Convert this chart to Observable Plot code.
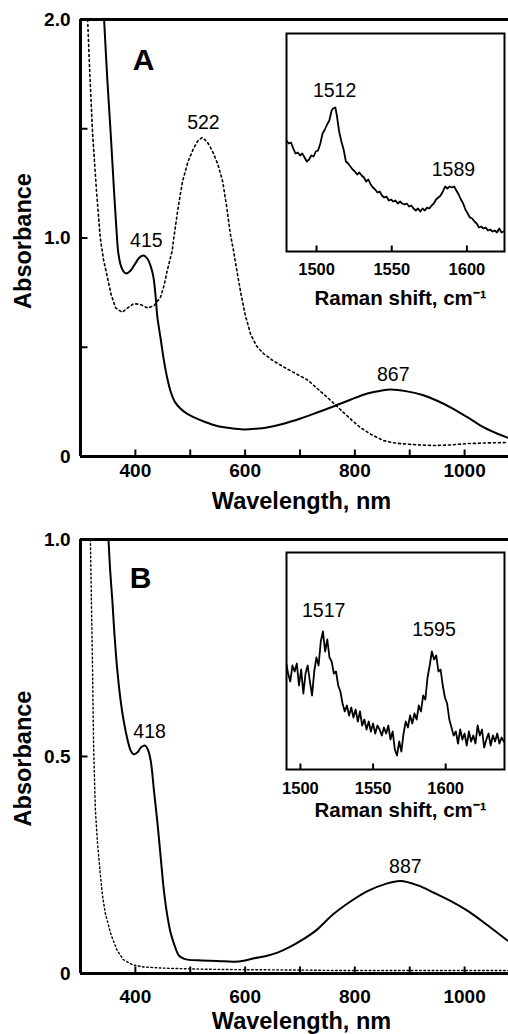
<!DOCTYPE html>
<html><head><meta charset="utf-8">
<script src="https://cdn.jsdelivr.net/npm/d3@7"></script>
<script src="https://cdn.jsdelivr.net/npm/@observablehq/plot@0.6"></script>
<style>
body{margin:0;background:#fff;}
#wrap{position:relative;width:508px;height:1034px;overflow:hidden;background:#fff;}
#wrap svg{position:absolute;}
</style></head><body><div id="wrap"></div>
<script>
const FONT = "Liberation Sans, Arial, Helvetica, sans-serif";

// ---- Panel A : absorbance spectra [wavelength nm, absorbance]
const solidA = [[343,2.0],[349,1.72],[355,1.48],[361,1.22],[366,1.02],[369,0.93],[374,0.87],[379,0.845],[384,0.838],[391,0.85],[399,0.88],[407,0.91],[415,0.92],[422,0.905],[428,0.87],[433,0.82],[437,0.73],[440,0.64],[446,0.54],[452,0.44],[458,0.36],[464,0.30],[472,0.25],[482,0.22],[494,0.196],[506,0.18],[527,0.158],[549,0.14],[573,0.13],[597,0.124],[620,0.127],[640,0.133],[670,0.15],[701,0.174],[730,0.2],[761,0.229],[792,0.26],[823,0.288],[845,0.30],[865,0.307],[895,0.298],[925,0.28],[950,0.255],[975,0.224],[1005,0.18],[1035,0.133],[1060,0.104],[1080,0.085]];
const dottedA = [[313,2.0],[317,1.75],[322,1.48],[329,1.22],[336,1.0],[342,0.9],[349,0.82],[356,0.74],[364,0.68],[376,0.66],[386,0.68],[397,0.70],[410,0.695],[422,0.68],[434,0.69],[446,0.73],[452,0.78],[458,0.85],[467,0.94],[470,1.0],[478,1.14],[486,1.26],[496,1.35],[506,1.41],[514,1.445],[522,1.46],[531,1.44],[540,1.40],[550,1.34],[559,1.26],[566,1.15],[573,1.02],[579,0.94],[585,0.85],[592,0.75],[600,0.65],[610,0.56],[621,0.505],[634,0.47],[650,0.44],[670,0.41],[692,0.38],[714,0.35],[732,0.31],[750,0.27],[765,0.235],[780,0.20],[795,0.165],[810,0.133],[830,0.10],[852,0.073],[868,0.064],[883,0.059],[910,0.054],[944,0.05],[975,0.053],[1005,0.059],[1040,0.062],[1078,0.064]];
const peaksA = [{x:420,y:0.92,label:"415"},{x:524,y:1.46,label:"522"},{x:870,y:0.307,label:"867"}];

// ---- Panel B
const solidB = [[351,1.0],[354,0.93],[358,0.86],[362,0.78],[367,0.70],[373,0.63],[379,0.58],[386,0.537],[391,0.515],[397,0.505],[404,0.51],[411,0.522],[418,0.525],[423,0.515],[428,0.49],[434,0.42],[440,0.35],[446,0.27],[452,0.191],[458,0.135],[464,0.095],[470,0.07],[479,0.042],[487,0.035],[495,0.032],[520,0.03],[550,0.029],[579,0.027],[600,0.03],[616,0.035],[640,0.041],[659,0.048],[680,0.06],[701,0.075],[730,0.1],[761,0.137],[792,0.166],[823,0.19],[855,0.206],[883,0.213],[915,0.203],[944,0.186],[975,0.167],[1005,0.145],[1040,0.113],[1078,0.076]];
const dottedB = [[318,1.0],[320,0.85],[322,0.70],[323,0.6],[324,0.52],[327,0.38],[331,0.3],[336,0.23],[340,0.18],[345,0.14],[355,0.092],[366,0.055],[378,0.032],[395,0.02],[415,0.015],[458,0.012],[520,0.01],[579,0.009],[700,0.008],[761,0.007],[900,0.007],[1080,0.007]];
const peaksB = [{x:426,y:0.525,label:"418"},{x:892,y:0.213,label:"887"}];

// ---- Insets : [Raman shift cm-1, intensity (arb.)]
const ramanA = [[1480,111],[1481.5,108],[1483,109],[1484.5,103],[1486,98],[1487.5,99],[1489,96],[1490.5,98],[1492,94],[1493.5,90],[1495,92],[1496.5,96],[1498,95],[1499.5,100],[1501,101],[1502.5,108],[1504,118],[1505.5,122],[1507,127],[1508.5,131],[1510,141],[1511,143],[1512.5,144],[1513.5,136],[1515,120],[1516.5,110],[1518,102],[1519.5,90],[1521,88],[1522.5,85],[1524,82],[1525.5,80],[1527,77],[1528.5,79],[1530,76],[1531.5,74],[1533,70],[1534.5,72],[1536,67],[1537.5,64],[1539,62],[1540.5,59],[1542,60],[1543.5,56],[1545,54],[1546.5,55],[1548,51],[1549.5,52],[1551,50],[1552.5,51],[1554,48],[1555.5,50],[1557,48],[1558.5,47],[1560,48],[1561.5,45],[1563,46],[1564.5,43],[1566,41],[1567.5,43],[1569,40],[1570.5,43],[1572,41],[1573.5,44],[1575,43],[1576.5,46],[1578,48],[1579.5,52],[1581,54],[1582.5,56],[1584,60],[1585.5,65],[1587,63],[1588.5,65],[1590,64],[1591.5,65],[1593,61],[1594.5,57],[1596,52],[1597.5,48],[1599,42],[1600.5,38],[1602,34],[1603.5,33],[1605,30],[1606.5,28],[1608,24],[1609.5,25],[1611,23],[1612.5,24],[1614,21],[1615.5,22],[1617,20],[1618.5,21],[1620,19],[1621.5,23],[1623,19],[1624.5,20]];
const ramanB = [[1490,108],[1491.5,96],[1493,88],[1494.5,104],[1496,98],[1497.5,106],[1499,84],[1500.5,100],[1502,76],[1503.5,96],[1505,104],[1506.5,88],[1508,74],[1509.5,98],[1511,112],[1512.5,104],[1514,128],[1515.5,138],[1517,118],[1518.5,130],[1520,112],[1521.5,108],[1523,96],[1524.5,98],[1526,84],[1527.5,78],[1529,66],[1530.5,58],[1532,64],[1533.5,54],[1535,62],[1536.5,52],[1538,60],[1539.5,48],[1541,58],[1542.5,44],[1544,50],[1545.5,40],[1547,48],[1548.5,38],[1550,46],[1551.5,36],[1553,44],[1554.5,40],[1556,34],[1557.5,42],[1559,36],[1560.5,44],[1562,30],[1563.5,38],[1565,20],[1566.5,14],[1568,28],[1569.5,18],[1571,36],[1572.5,48],[1574,42],[1575.5,54],[1577,46],[1578.5,56],[1580,50],[1581.5,64],[1583,58],[1584.5,74],[1586,70],[1587.5,92],[1589,104],[1590.5,118],[1592,110],[1593.5,114],[1595,98],[1596.5,100],[1598,84],[1599.5,72],[1601,66],[1602.5,50],[1604,42],[1605.5,34],[1607,38],[1608.5,26],[1610,40],[1611.5,30],[1613,36],[1614.5,24],[1616,38],[1617.5,28],[1619,34],[1620.5,26],[1622,44],[1623.5,34],[1625,40],[1626.5,22],[1628,30],[1629.5,36],[1631,24],[1632.5,34],[1634,28],[1635.5,36],[1637,26],[1638.5,32],[1640,28]];
const peaksRamanA = [{x:1512,y:143,label:"1512"},{x:1591,y:64,label:"1589"}];
const peaksRamanB = [{x:1516,y:137,label:"1517"},{x:1592,y:118,label:"1595"}];

const xMinorTicks = [400,500,600,700,800,900,1000];
const xMajorTicks = [400,600,800,1000];
const ramanTicks = [1500,1550,1600];

// inward tick glyphs (custom dot symbols): upward from the x axis, rightward from the y axis
const tickUp = len => ({draw(ctx) { ctx.moveTo(0, 0); ctx.lineTo(0, -len); }});
const tickRight = len => ({draw(ctx) { ctx.moveTo(0, 0); ctx.lineTo(len, 0); }});

const wrap = document.getElementById("wrap");
function place(svg, left, top) {
  svg.style.left = left + "px"; svg.style.top = top + "px";
  wrap.appendChild(svg);
}

function mainPanel(o) {
  const svg = Plot.plot({
    width: 508, height: o.height, marginTop: 19, marginBottom: o.marginBottom, marginLeft: 80, marginRight: 0,
    x: {domain: [300, 1080]},
    y: {domain: o.yDomain},
    style: {background: "transparent", fontFamily: FONT, color: "black", overflow: "visible"},
    marks: [
      Plot.line(o.dotted, {x: d => d[0], y: d => d[1], stroke: "black", strokeWidth: o.dotWidth, strokeDasharray: o.dotDash, clip: true}),
      Plot.line(o.solid, {x: d => d[0], y: d => d[1], stroke: "black", strokeWidth: 2, curve: "catmull-rom", clip: true}),
      Plot.dot(xMinorTicks, {x: d => d, y: 0, symbol: tickUp(7), r: 4, fill: "none", stroke: "black", strokeWidth: 2}),
      Plot.dot(o.yTicks, {x: 300, y: d => d, symbol: tickRight(7), r: 4, fill: "none", stroke: "black", strokeWidth: 2}),
      Plot.axisX({ticks: xMajorTicks, tickSize: 0, tickPadding: o.tickPad, tickFormat: d => String(d), fontSize: 19, fontWeight: "bold", label: null}),
      Plot.axisY({ticks: o.yLabelTicks, tickSize: 0, tickPadding: 10, tickFormat: d => d === 0 ? "0" : d3.format(".1f")(d), fontSize: 19, fontWeight: "bold", label: null}),
      Plot.ruleY([o.yDomain[1]], {strokeWidth: 3}),
      Plot.ruleY([0], {strokeWidth: 3}),
      Plot.ruleX([300], {strokeWidth: 3}),
      Plot.text(o.peaks, {x: "x", y: "y", text: "label", dy: o.peakDy, fontSize: 19.5}),
      Plot.text([o.letter], {text: d => d, frameAnchor: "top-left", textAnchor: "middle", lineAnchor: "middle", dx: o.letterDx, dy: o.letterDy, fontSize: 30, fontWeight: "bold"}),
      Plot.text(["Absorbance"], {text: d => d, frameAnchor: "left", textAnchor: "middle", lineAnchor: "middle", rotate: -90, dx: -57, dy: o.absDy, fontSize: 23.5, fontWeight: "bold"}),
      Plot.text(["Wavelength, nm"], {text: d => d, frameAnchor: "bottom", textAnchor: "middle", lineAnchor: "middle", dx: 7, dy: o.xLabelDy, fontSize: 23.5, fontWeight: "bold"})
    ]
  });
  place(svg, 0, o.top);
}

function insetPanel(o) {
  const svg = Plot.plot({
    width: o.w + 4, height: o.h + 2 + 70, marginTop: 2, marginLeft: 2, marginRight: 2, marginBottom: 70,
    x: {domain: o.xDomain},
    y: {domain: [0, o.h], axis: null},
    style: {background: "transparent", fontFamily: FONT, color: "black", overflow: "visible"},
    marks: [
      Plot.line(o.data, {x: d => d[0], y: d => d[1], stroke: "black", strokeWidth: 1.8, clip: true}),
      Plot.frame({strokeWidth: 2}),
      Plot.dot(ramanTicks, {x: d => d, y: 0, symbol: tickUp(6), r: 4, fill: "none", stroke: "black", strokeWidth: 2}),
      Plot.axisX({ticks: ramanTicks, tickSize: 0, tickPadding: o.tickPad, tickFormat: d => String(d), fontSize: 16.5, fontWeight: "bold", label: null}),
      Plot.text(o.peaks, {x: "x", y: "y", text: "label", dy: o.peakDy, fontSize: 19.5}),
      Plot.text(["Raman shift, cm\u207B\u00B9"], {text: d => d, frameAnchor: "bottom", textAnchor: "middle", lineAnchor: "middle", dx: 5, dy: o.labelDy, fontSize: 20.5, fontWeight: "bold"})
    ]
  });
  place(svg, o.left - 2, o.top - 2);
}

mainPanel({solid: solidA, dotted: dottedA, yDomain: [0, 2], yTicks: [0.5, 1, 1.5], yLabelTicks: [0, 1, 2],
  peaks: peaksA, peakDy: -15, letter: "A", letterDx: 63, letterDy: 41, absDy: 3, tickPad: 7, xLabelDy: 45,
  height: 520, marginBottom: 64, top: 0, dotWidth: 1.6, dotDash: "2,3"});
mainPanel({solid: solidB, dotted: dottedB, yDomain: [0, 1], yTicks: [0.5], yLabelTicks: [0, 0.5, 1],
  peaks: peaksB, peakDy: -14, letter: "B", letterDx: 60, letterDy: 39, absDy: 2, tickPad: 16, xLabelDy: 48,
  height: 514, marginBottom: 61, top: 520, dotWidth: 1.4, dotDash: "1.6,2.6"});

insetPanel({data: ramanA, xDomain: [1480, 1625], w: 218, h: 218, left: 286, top: 33, peaks: peaksRamanA, peakDy: -18, tickPad: 12, labelDy: 47});
insetPanel({data: ramanB, xDomain: [1490.4, 1640.5], w: 218, h: 217, left: 286, top: 552, peaks: peaksRamanB, peakDy: -22, tickPad: 13, labelDy: 41});
</script>
</body></html>
